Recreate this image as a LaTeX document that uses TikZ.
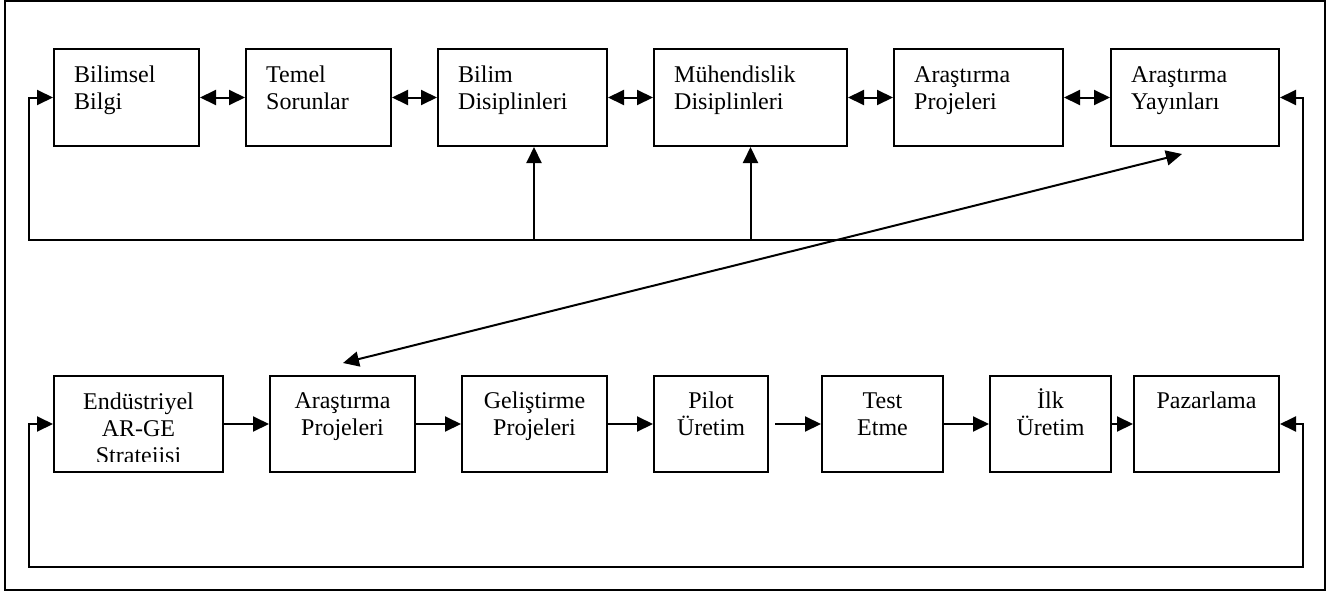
\documentclass[tikz,border=0pt]{standalone}
\usepackage{fontspec}
\setmainfont{Liberation Serif}
\usetikzlibrary{arrows.meta,calc}

\begin{document}
\begin{tikzpicture}[x=1pt,y=-1pt,
  box/.style={draw,line width=2pt,rectangle,inner sep=0pt,anchor=north west},
  lbl/.style={inner sep=0pt,font=\fontsize{24}{27}\selectfont},
  lblL/.style={lbl,anchor=base west,align=left},
  lblC/.style={lbl,anchor=base,align=center},
  conn/.style={line width=2pt},
  tip/.tip={Triangle[length=16pt,width=15pt]},
  arr/.style={conn,-tip},
  darr/.style={conn,tip-tip}]

\useasboundingbox (0,0) rectangle (1340,594);
\draw[line width=2pt] (5,1) rectangle (1325,590);

% upper row
\node[box,minimum width=145pt,minimum height=97pt] (b1) at (53,48) {};
\node[box,minimum width=145pt,minimum height=97pt] (b2) at (245,48) {};
\node[box,minimum width=169pt,minimum height=97pt] (b3) at (437,48) {};
\node[box,minimum width=193pt,minimum height=97pt] (b4) at (653,48) {};
\node[box,minimum width=169pt,minimum height=97pt] (b5) at (893,48) {};
\node[box,minimum width=168pt,minimum height=97pt] (b6) at (1110,48) {};

% the base anchor sits on the last line, so two-line labels go 27pt lower
\node[lblL] (tb1) at ($(b1.north west)+(21,61)$) {Bilimsel\\Bilgi};
\node[lblL] (tb2) at ($(b2.north west)+(21,61)$) {Temel\\Sorunlar};
\node[lblL] (tb3) at ($(b3.north west)+(21,61)$) {Bilim\\Disiplinleri};
\node[lblL] (tb4) at ($(b4.north west)+(21,61)$) {Mühendislik\\Disiplinleri};
\node[lblL] (tb5) at ($(b5.north west)+(21,61)$) {Araştırma\\Projeleri};
\node[lblL] (tb6) at ($(b6.north west)+(21,61)$) {Araştırma\\Yayınları};

\draw[darr] (b1) -- (b2);
\draw[darr] (b2) -- (b3);
\draw[darr] (b3) -- (b4);
\draw[darr] (b4) -- (b5);
\draw[darr] (b5) -- (b6);

% upper feedback loop
\coordinate (tlL) at (29,240);
\coordinate (tlR) at (1303,240);
\draw[darr] (b1.west) -| (tlL) -- (tlR) |- (b6.east);
\draw[arr] ([xshift=11.5pt]b3.south |- tlL) -- ([xshift=11.5pt]b3.south);
\draw[arr] (b4.south |- tlL) -- (b4.south);

% lower row
\node[box,minimum width=169pt,minimum height=96pt] (c1) at (53,375) {};
\node[box,minimum width=145pt,minimum height=96pt] (c2) at (269,375) {};
\node[box,minimum width=145pt,minimum height=96pt] (c3) at (461,375) {};
\node[box,minimum width=114pt,minimum height=96pt] (c4) at (653,375) {};
\node[box,minimum width=121pt,minimum height=96pt] (c5) at (821,375) {};
\node[box,minimum width=121pt,minimum height=96pt] (c6) at (989,375) {};
\node[box,minimum width=145pt,minimum height=96pt] (c7) at (1133,375) {};

% the third line of the first label is cut off by its frame
\begin{scope}
  \clip (c1.north west) rectangle ($(c1.south east)+(0,-12)$);
  \node[lblC] (tc1) at ($(c1.north)+(0,88)$) {Endüstriyel\\AR-GE\\Stratejisi};
\end{scope}
\node[lblC] (tc2) at ($(c2.north)+(0,60)$) {Araştırma\\Projeleri};
\node[lblC] (tc3) at ($(c3.north)+(0,60)$) {Geliştirme\\Projeleri};
\node[lblC] (tc4) at ($(c4.north)+(0,60)$) {Pilot\\Üretim};
\node[lblC] (tc5) at ($(c5.north)+(0,60)$) {Test\\Etme};
\node[lblC] (tc6) at ($(c6.north)+(0,60)$) {İlk\\Üretim};
\node[lblC] (tc7) at ($(c7.north)+(0,33)$) {Pazarlama};

\draw[arr] (c1) -- (c2);
\draw[arr] (c2) -- (c3);
\draw[arr] (c3) -- (c4);
\draw[arr,shorten <=6pt] (c4) -- (c5);
\draw[arr] (c5) -- (c6);
\draw[arr] (c6) -- (c7);

% lower feedback loop
\coordinate (blL) at (29,567);
\coordinate (blR) at (1303,567);
\draw[darr] (c1.west) -| (blL) -- (blR) |- (c7.east);

% link between the two rows
\coordinate (dA) at (1182,154);
\coordinate (dB) at (343,363);
\draw[darr] (dA) -- (dB);
\end{tikzpicture}
\end{document}
